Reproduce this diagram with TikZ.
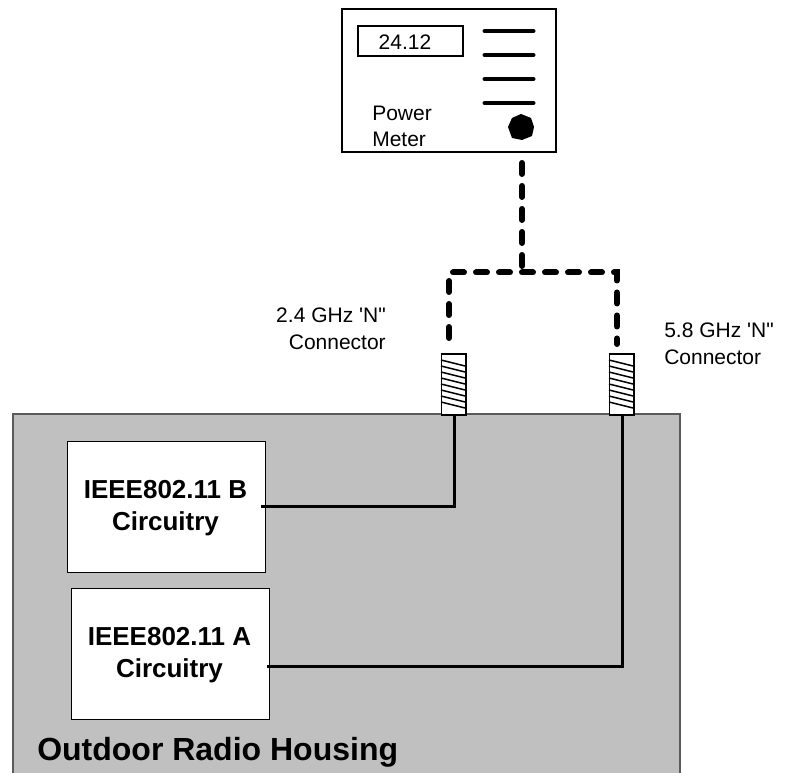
\documentclass[tikz,border=0pt]{standalone}
\usepackage{fontspec}
\setmainfont[Ligatures=TeXOff]{Liberation Sans}
\tikzset{
  x=0.75pt,y=-0.75pt,
  box/.style={draw=black,line width=0.8pt,fill=white,inner sep=0pt,anchor=north west},
  instr/.style={draw=black,line width=1.2pt,fill=white,inner sep=0pt,anchor=north west},
  wire/.style={draw=black,line width=2.25pt},
  dashwire/.style={draw=black,line width=4.5pt,line cap=round,dash pattern=on 8.25pt off 9pt},
  bar/.style={draw=black,line width=3pt,line cap=round},
  hatch/.style={draw=black,line width=1.1pt},
  small/.style={font=\fontsize{15.75pt}{19.7pt}\selectfont,inner sep=0pt},
  circ/.style={font=\fontsize{19.5pt}{24pt}\selectfont\bfseries,align=center,inner sep=0pt,anchor=north},
}
\begin{document}
\begin{tikzpicture}
\useasboundingbox (0,0) rectangle (786,773);
% housing
\fill[fill={rgb,255:red,192;green,192;blue,192}] (13,414) rectangle (680,773);
\draw[draw={rgb,255:red,90;green,90;blue,90},line width=1pt] (13,773) -- (13,414) -- (680,414) -- (680,773);
\node[anchor=base west,inner sep=0pt,font=\fontsize{24pt}{28pt}\selectfont\bfseries] (housing) at (37,760) {Outdoor Radio Housing};
% circuit boxes
\node[box,minimum width=148.5pt,minimum height=98.25pt] (b) at (66.5,441) {};
\node[circ] (btext) at (165.5,480) {IEEE802.11 B\\Circuitry};
\node[box,minimum width=148.5pt,minimum height=98.25pt] (a) at (70.5,588) {};
\node[circ] (atext) at (169.5,627) {IEEE802.11 A\\Circuitry};
% wires
\coordinate (bout) at (261,507);
\coordinate (aout) at (267,666);
\coordinate (bcor) at (454,507);
\coordinate (acor) at (622.5,666);
% connectors
\node[instr,minimum width=18.5pt,minimum height=45.75pt] (cl) at (440.5,353) {};
\node[instr,minimum width=18.5pt,minimum height=45.75pt] (cr) at (608.5,353) {};
\draw[wire] (bout) -- (bcor) -- (bcor |- cl.south);
\draw[wire] (aout) -- (acor) -- (acor |- cr.south);
\foreach \y in {0,...,7}{
  \draw[hatch] (441,{360+6*\y}) -- (465,{366+6*\y});
  \draw[hatch] (609,{360+6*\y}) -- (633,{366+6*\y});
}
% power meter
\node[instr,minimum width=160.5pt,minimum height=107.25pt] (meter) at (341,8) {};
\node[instr,minimum width=78.75pt,minimum height=22.5pt] (disp) at (357,25) {};
\node[inner sep=0pt,font=\fontsize{15.75pt}{18pt}\selectfont] (val) at (405,42.5) {24.12};
\draw[bar] (484.5,31) -- (533.5,31);
\draw[bar] (484.5,55) -- (533.5,55);
\draw[bar] (484.5,79) -- (533.5,79);
\draw[bar] (484.5,103) -- (533.5,103);
\fill[black] (521,114) -- (531,118) -- (534,127) -- (532,136) -- (522,140) -- (512,138) -- (508,127) -- (512,118) -- cycle;
\node[small,anchor=north west,align=left] (pm) at (372,106) {Power\\Meter};
% dashed
\coordinate (mb) at (522,151.5);
\coordinate (tj) at (522,266);
\coordinate (tl) at (453,272.5);
\coordinate (tr) at (617,272.5);
\coordinate (le) at (449,338);
\coordinate (lt) at (449,281);
\coordinate (re) at (617,344);
\draw[dashwire,dash phase=8.65pt] (mb) -- (tj);
\draw[dashwire] (le) -- (lt);
\draw[dashwire] (tl) -- (tr) -- (re);
% labels
\node[small,anchor=north east,align=right] (l1) at (386,308) {2.4 GHz 'N"\\Connector};
\node[small,anchor=north west,align=left] (l2) at (664,323) {5.8 GHz 'N"\\Connector};
\end{tikzpicture}
\end{document}
